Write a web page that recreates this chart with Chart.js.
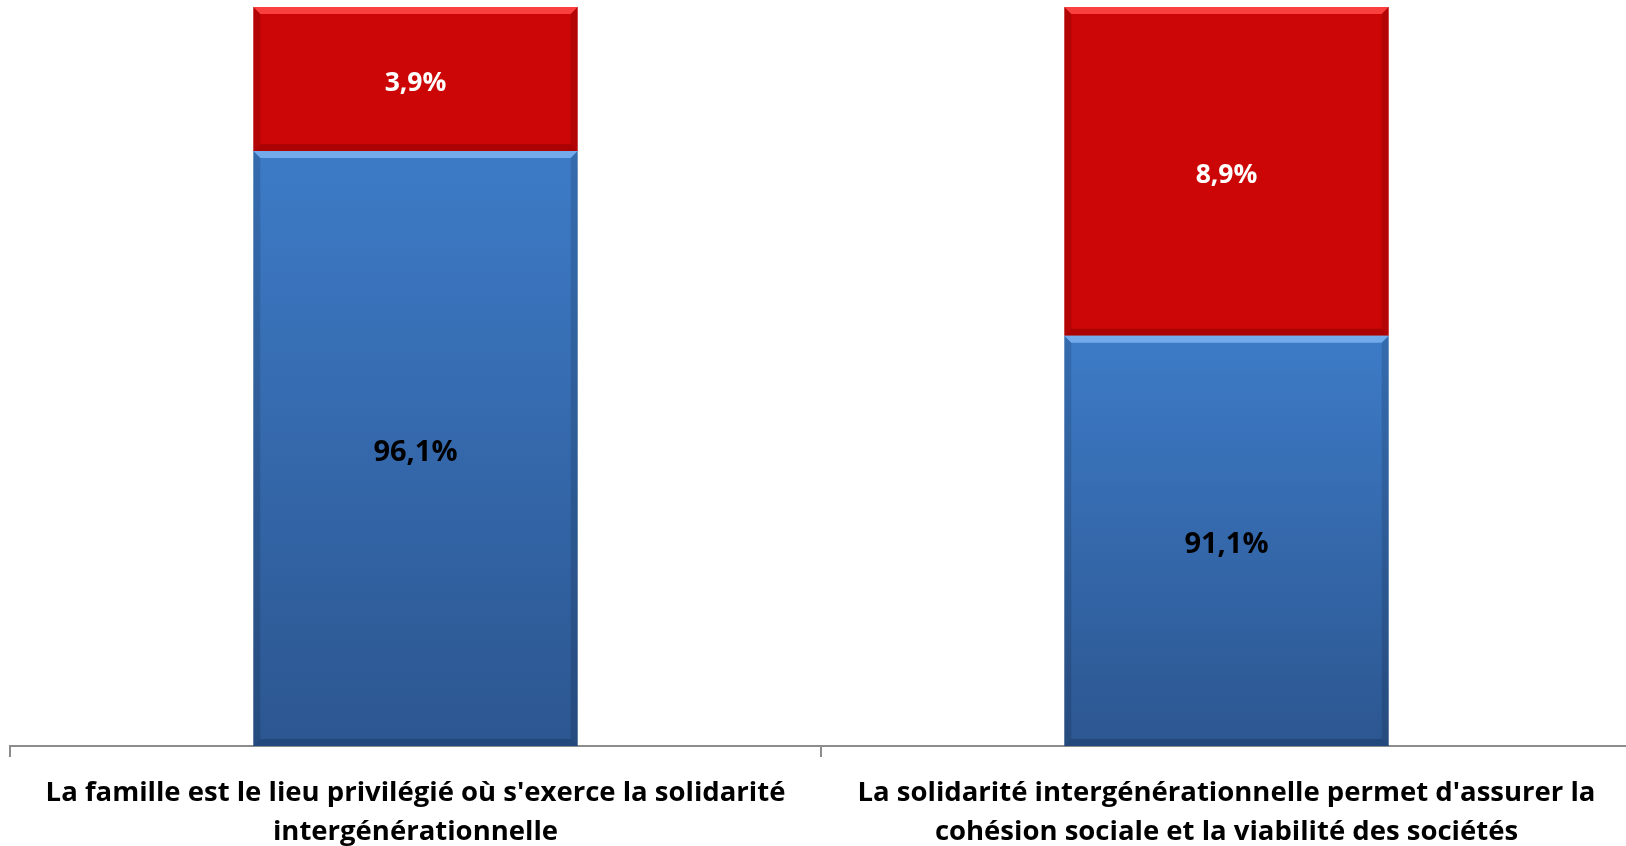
<!DOCTYPE html>
<html>
<head>
<meta charset="utf-8">
<script src="https://cdn.jsdelivr.net/npm/chart.js@4"></script>
<style>
  html, body { margin: 0; padding: 0; background: #fff; overflow: hidden; }
  #zone { width: 1634px; height: 846px; }
</style>
</head>
<body>
<div id="zone"><canvas id="graphique"></canvas></div>
<script>
// categories (libellés sur 2 lignes)
const categories = [
  ["La famille est le lieu privilégié où s'exerce la solidarité", "intergénérationnelle"],
  ["La solidarité intergénérationnelle permet d'assurer la", "cohésion sociale et la viabilité des sociétés"]
];
const valeursBleu = [96.1, 91.1];
const valeursRouge = [3.9, 8.9];
const axeMin = 80;
const axeMax = 100;

function pct(v) { return v.toFixed(1).replace('.', ',') + '%'; }

// degrade bleu par barre
function degradeBleu(context) {
  const chart = context.chart;
  const area = chart.chartArea;
  if (!area) return '#3a74bb';
  const y = chart.scales.y;
  const top = Math.max(y.getPixelForValue(valeursBleu[context.dataIndex]), area.top);
  const g = chart.ctx.createLinearGradient(0, top, 0, area.bottom);
  g.addColorStop(0, '#3d7bc7');
  g.addColorStop(1, '#2c5690');
  return g;
}

// biseau / relief sur chaque segment
const biseau = {
  id: 'biseau',
  afterDatasetsDraw(chart) {
    const ctx = chart.ctx;
    const area = chart.chartArea;
    ctx.save();
    ctx.beginPath();
    ctx.rect(area.left, area.top, area.right - area.left, area.bottom - area.top);
    ctx.clip();
    chart.data.datasets.forEach((ds, i) => {
      const meta = chart.getDatasetMeta(i);
      const clair = i === 0 ? 'rgba(120,175,240,0.9)' : 'rgba(255,70,70,0.9)';
      const sombre = i === 0 ? 'rgba(20,45,85,0.35)' : 'rgba(110,0,0,0.35)';
      meta.data.forEach(el => {
        const p = el.getProps(['x', 'y', 'base', 'width'], true);
        const l = p.x - p.width / 2, r = p.x + p.width / 2;
        const t = Math.max(Math.min(p.y, p.base), area.top);
        const b = Math.min(Math.max(p.y, p.base), area.bottom);
        const e = 7;
        // haut clair
        ctx.fillStyle = clair;
        ctx.beginPath();
        ctx.moveTo(l, t); ctx.lineTo(r, t); ctx.lineTo(r - e, t + e); ctx.lineTo(l + e, t + e);
        ctx.closePath(); ctx.fill();
        // bas sombre
        ctx.fillStyle = sombre;
        ctx.beginPath();
        ctx.moveTo(l, b); ctx.lineTo(r, b); ctx.lineTo(r - e, b - e); ctx.lineTo(l + e, b - e);
        ctx.closePath(); ctx.fill();
        // cotes
        ctx.fillStyle = 'rgba(0,0,0,0.12)';
        ctx.beginPath();
        ctx.moveTo(l, t); ctx.lineTo(l + e, t + e); ctx.lineTo(l + e, b - e); ctx.lineTo(l, b);
        ctx.closePath(); ctx.fill();
        ctx.beginPath();
        ctx.moveTo(r, t); ctx.lineTo(r - e, t + e); ctx.lineTo(r - e, b - e); ctx.lineTo(r, b);
        ctx.closePath(); ctx.fill();
      });
    });
    ctx.restore();
  }
};

// etiquettes au centre de la partie visible
const etiquettes = {
  id: 'etiquettes',
  afterDatasetsDraw(chart) {
    const ctx = chart.ctx;
    const area = chart.chartArea;
    ctx.save();
    ctx.textAlign = 'center';
    ctx.textBaseline = 'middle';
    chart.data.datasets.forEach((ds, i) => {
      const meta = chart.getDatasetMeta(i);
      ctx.fillStyle = i === 0 ? '#000' : '#fff';
      ctx.font = i === 0 ? 'bold 29px "Open Sans"' : 'bold 26.5px "Open Sans"';
      meta.data.forEach((el, j) => {
        const p = el.getProps(['x', 'y', 'base'], true);
        const t = Math.max(Math.min(p.y, p.base), area.top);
        const b = Math.min(Math.max(p.y, p.base), area.bottom);
        ctx.fillText(pct(ds.data[j]), p.x, (t + b) / 2 + 4);
      });
    });
    ctx.restore();
  }
};

new Chart(document.getElementById('graphique'), {
  type: 'bar',
  data: {
    labels: categories,
    datasets: [{
      data: valeursBleu,
      backgroundColor: degradeBleu,
      barPercentage: 0.4,
      categoryPercentage: 1
    }, {
      data: valeursRouge,
      backgroundColor: '#cc0606',
      barPercentage: 0.4,
      categoryPercentage: 1
    }]
  },
  options: {
    responsive: true,
    maintainAspectRatio: false,
    animation: false,
    layout: { padding: { left: 10, right: 2, top: 7, bottom: 0 } },
    plugins: { legend: { display: false }, tooltip: { enabled: false } },
    scales: {
      x: {
        stacked: true,
        grid: { drawOnChartArea: false, drawTicks: true, tickLength: 11, color: '#8c8c8c', lineWidth: 2, offset: true },
        border: { color: '#8c8c8c', width: 2 },
        ticks: {
          color: '#000',
          padding: 17,
          maxRotation: 0,
          autoSkip: false,
          font: { family: 'Open Sans', weight: 'bold', size: 27.5, lineHeight: 1.4 }
        },
        afterFit(scale) { scale.height = 100; }
      },
      y: {
        stacked: true,
        display: false,
        min: axeMin,
        max: axeMax
      }
    }
  },
  plugins: [biseau, etiquettes]
});
</script>
</body>
</html>
